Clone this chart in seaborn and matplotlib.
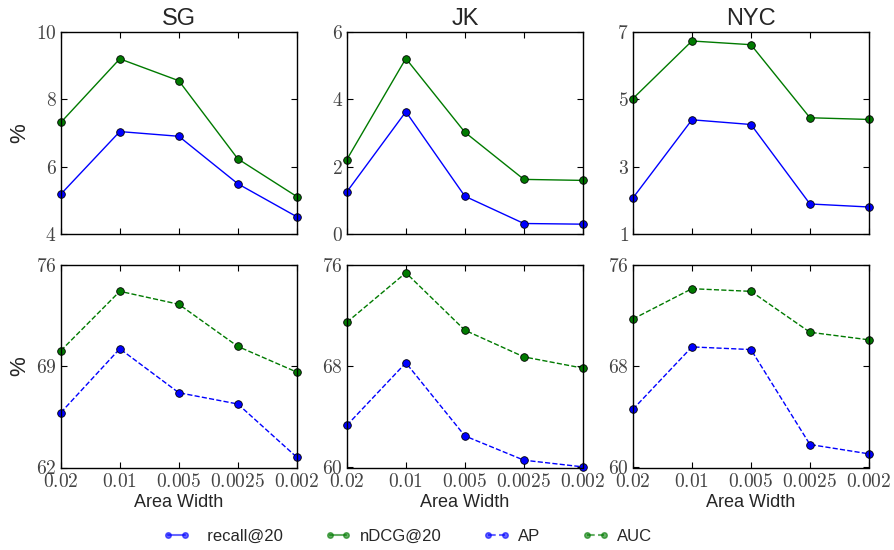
import numpy as np
import pandas as pd
import matplotlib
matplotlib.use("Agg")
import matplotlib.pyplot as plt
from matplotlib.lines import Line2D
from matplotlib.ticker import FixedLocator, FuncFormatter
import seaborn as sns

# data
cities = ["SG", "JK", "NYC"]
widths = ["0.02", "0.01", "0.005", "0.0025", "0.002"]

recall_sg = [5.18, 7.04, 6.90, 5.49, 4.51]
recall_jk = [1.25, 3.63, 1.12, 0.31, 0.29]
recall_nyc = [2.07, 4.39, 4.25, 1.89, 1.80]

ndcg_sg = [7.31, 9.20, 8.55, 6.23, 5.11]
ndcg_jk = [2.21, 5.21, 3.02, 1.62, 1.59]
ndcg_nyc = [5.02, 6.73, 6.62, 4.45, 4.40]

ap_sg = [65.80, 70.23, 67.18, 66.40, 62.71]
ap_jk = [63.34, 68.29, 62.50, 60.58, 60.05]
ap_nyc = [64.61, 69.55, 69.34, 61.82, 61.08]

auc_sg = [70.09, 74.21, 73.31, 70.39, 68.61]
auc_jk = [71.50, 75.42, 70.87, 68.76, 67.87]
auc_nyc = [71.76, 74.16, 73.95, 70.71, 70.11]

top_ticks = {"SG": [4, 6, 8, 10], "JK": [0, 2, 4, 6], "NYC": [1, 3, 5, 7]}
bottom_ticks = {"SG": [62, 69, 76], "JK": [60, 68, 76], "NYC": [60, 68, 76]}

top_data = {"SG": (recall_sg, ndcg_sg), "JK": (recall_jk, ndcg_jk), "NYC": (recall_nyc, ndcg_nyc)}
bottom_data = {"SG": (ap_sg, auc_sg), "JK": (ap_jk, auc_jk), "NYC": (ap_nyc, auc_nyc)}

sns.set_theme(style="ticks", rc={"xtick.direction": "in", "ytick.direction": "in"})
plt.rcParams["font.family"] = ["Liberation Sans", "DejaVu Sans"]
plt.rcParams["mathtext.fontset"] = "cm"

BLUE = "#0000ff"
GREEN = "#007a00"
xpos = np.arange(len(widths))

fig, axes = plt.subplots(2, 3, figsize=(8.94, 5.5), dpi=100)
fig.subplots_adjust(left=0.068, right=0.972, bottom=0.150, top=0.942, wspace=0.212, hspace=0.156)


def style_axis(ax, ticks, show_x):
    ax.set_xlim(0, 4)
    ax.set_ylim(ticks[0], ticks[-1])
    ax.xaxis.set_major_locator(FixedLocator(xpos))
    ax.yaxis.set_major_locator(FixedLocator(ticks))
    ax.yaxis.set_major_formatter(FuncFormatter(lambda v, p: f"${v:g}$"))
    if show_x:
        ax.set_xticklabels([f"${w}$" for w in widths])
        ax.set_xlabel("Area Width", fontsize=13, labelpad=2)
    else:
        ax.set_xticklabels([])
        ax.set_xlabel("")
    ax.tick_params(axis="both", which="major", direction="in", length=4, width=0.8,
                   top=True, right=True, labelsize=14, colors="black", labelcolor="#444444")
    ax.tick_params(axis="x", pad=4)
    ax.tick_params(axis="y", pad=3)
    for s in ax.spines.values():
        s.set_linewidth(1.0)
        s.set_color("black")
        s.set_visible(True)


for j, city in enumerate(cities):
    ax = axes[0, j]
    rec, nd = top_data[city]
    sns.lineplot(x=xpos, y=rec, ax=ax, color=BLUE, lw=1, marker="o", markersize=5.5,
                 markeredgecolor="black", markeredgewidth=0.6)
    sns.lineplot(x=xpos, y=nd, ax=ax, color=GREEN, lw=1, marker="o", markersize=5.5,
                 markeredgecolor="black", markeredgewidth=0.6)
    style_axis(ax, top_ticks[city], False)
    ax.set_title(city, fontsize=17, pad=5)
    for line in ax.lines:
        line.set_clip_on(False)

    ax = axes[1, j]
    ap, auc = bottom_data[city]
    sns.lineplot(x=xpos, y=ap, ax=ax, color=BLUE, lw=1, linestyle="--", marker="o", markersize=5.5,
                 markeredgecolor="black", markeredgewidth=0.6)
    sns.lineplot(x=xpos, y=auc, ax=ax, color=GREEN, lw=1, linestyle="--", marker="o", markersize=5.5,
                 markeredgecolor="black", markeredgewidth=0.6)
    style_axis(ax, bottom_ticks[city], True)
    for line in ax.lines:
        line.set_clip_on(False)

axes[0, 0].set_ylabel("%", fontsize=16)
axes[1, 0].set_ylabel("%", fontsize=16)
for ax in axes[:, 1:].flat:
    ax.set_ylabel("")

handles = [
    Line2D([], [], color=BLUE, lw=1.5, alpha=0.6, marker="o", markersize=4,
           markerfacecolor=BLUE, markeredgecolor=BLUE),
    Line2D([], [], color=GREEN, lw=1.5, alpha=0.6, marker="o", markersize=4,
           markerfacecolor=GREEN, markeredgecolor=GREEN),
    Line2D([], [], color=BLUE, lw=1.5, ls="--", alpha=0.6, marker="o", markersize=4,
           markerfacecolor=BLUE, markeredgecolor=BLUE),
    Line2D([], [], color=GREEN, lw=1.5, ls="--", alpha=0.6, marker="o", markersize=4,
           markerfacecolor=GREEN, markeredgecolor=GREEN),
]
labels = ["  recall@20", "nDCG@20", "AP", "AUC"]
fig.legend(handles, labels, loc="center", bbox_to_anchor=(0.456, 0.024), ncol=4, frameon=False,
           fontsize=12, numpoints=2, handlelength=1.6, handletextpad=0.5, columnspacing=2.5)

fig.savefig("out.png", dpi=100)
